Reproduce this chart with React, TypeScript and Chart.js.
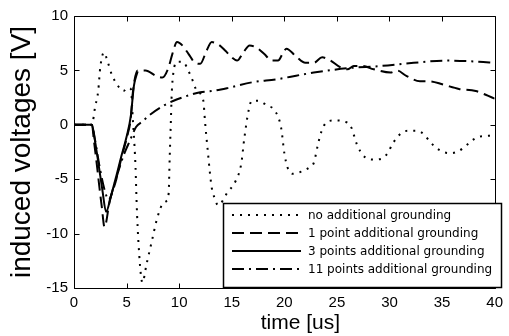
import React, { useEffect, useRef } from "react";
import { Chart, registerables } from "chart.js";

Chart.register(...registerables);

// ---- data (time in us, voltage in V) ----
const seriesLabels = [
  "no additional grounding",
  "1 point additional grounding",
  "3 points additional grounding",
  "11 points additional grounding",
];

const xTitle = "time [us]";
const yTitle = "induced voltages [V]";

const xTickValues = [0, 5, 10, 15, 20, 25, 30, 35, 40];
const yTickValues = [-15, -10, -5, 0, 5, 10];

const noGrounding: [number, number][] = [
  [0, 0], [1.7, 0], [2.0, 1.6], [2.3, 3.1], [2.5, 5.3], [2.85, 6.65], [3.2, 5.8], [3.6, 4.6],
  [4.1, 3.7], [4.7, 3.1], [5.1, 3.4], [5.4, 3.3], [5.6, 0.4], [5.75, -1.9], [5.85, -3.9],
  [5.95, -7.0], [6.05, -9.4], [6.2, -11.9], [6.35, -13.7], [6.5, -14.5], [6.9, -12.8],
  [7.4, -10.7], [7.85, -8.8], [8.4, -7.3], [8.8, -7.0], [9.0, -6.3], [9.1, -3.0], [9.2, 0],
  [9.3, 3.0], [9.45, 4.8], [9.8, 5.8], [10.3, 5.8], [11.1, 4.5], [11.7, 3.1], [12.3, 2.2],
  [12.45, 0.4], [12.6, -1.2], [12.75, -2.7], [12.9, -4.2], [13.1, -5.8], [13.4, -6.8],
  [13.7, -7.4], [14.6, -6.2], [15.4, -5.1], [15.9, -3.6], [16.2, -1.2], [16.6, 1.3],
  [16.9, 2.2], [17.5, 2.2], [18.4, 1.75], [19.1, 1.3], [19.7, -0.3], [20.0, -2.6],
  [20.3, -3.9], [20.8, -4.5], [21.6, -4.3], [22.4, -3.9], [22.8, -3.5], [23.2, -1.8],
  [23.5, -0.7], [24.1, 0.3], [24.9, 0.4], [25.7, 0.3], [26.3, -0.1], [26.9, -1.8],
  [27.2, -2.4], [27.7, -3.0], [28.4, -3.2], [29.3, -3.1], [29.9, -2.5], [30.2, -1.9],
  [30.7, -1.2], [31.2, -0.7], [31.9, -0.55], [32.6, -0.55], [33.3, -0.9], [33.8, -1.5],
  [34.3, -2.0], [35.1, -2.5], [35.9, -2.6], [36.6, -2.4], [37.3, -1.9], [37.9, -1.4],
  [38.5, -1.1], [39.5, -1.0], [40, -0.9],
];

const onePoint: [number, number][] = [
  [0, 0], [1.7, 0], [1.9, -1.5], [2.2, -3.9], [2.4, -5.6], [2.65, -7.6], [2.9, -9.4],
  [3.4, -7.0], [4.0, -5.1], [4.3, -3.9], [4.6, -2.7], [5.1, -0.9], [5.4, 0.6], [5.6, 3.0],
  [6.05, 5.0], [6.8, 5.0], [7.8, 4.5], [8.4, 4.35], [9.0, 5.3], [9.35, 6.5], [9.8, 7.6],
  [10.3, 7.3], [10.9, 6.5], [11.5, 5.7], [12.0, 5.6], [12.6, 6.8], [13.1, 7.6], [13.7, 7.4],
  [14.4, 6.8], [15.0, 6.2], [15.5, 5.9], [16.1, 6.65], [16.7, 7.3], [17.5, 7.0], [18.1, 6.5],
  [18.8, 5.9], [19.4, 5.9], [19.9, 6.65], [20.2, 7.0], [21.1, 6.3], [22.0, 5.7], [22.8, 5.7],
  [23.6, 6.2], [24.4, 5.9], [25.3, 5.3], [26.0, 5.1], [26.6, 5.4], [27.4, 5.4], [28.5, 5.1],
  [30.1, 4.8], [30.7, 5.0], [31.6, 4.5], [32.9, 4.0], [33.8, 4.0], [35.1, 3.7], [36.6, 3.3],
  [38.2, 3.1], [40, 2.4],
];

const threePoints: [number, number][] = [
  [0, 0], [1.7, 0], [1.95, -1.2], [2.3, -3.4], [2.7, -6.0], [3.05, -8.0], [3.5, -6.6],
  [4.0, -4.8], [4.5, -2.9], [5.0, -1.1], [5.4, 0.8], [5.7, 3.6], [6.05, 4.9],
];

const elevenPoints: [number, number][] = [
  [0, 0], [1.7, 0], [2.0, -1.4], [2.5, -4.2], [3.0, -6.3], [3.3, -6.9], [3.8, -5.6],
  [4.3, -4.0], [4.8, -2.6], [5.3, -1.5], [5.9, -0.2], [6.5, 0.3], [7.2, 0.9], [8.6, 1.8],
  [9.7, 2.3], [10.9, 2.7], [12.0, 3.0], [13.1, 3.1], [14.7, 3.4], [16.9, 3.9], [19.4, 4.2],
  [20.5, 4.4], [22.8, 4.8], [26.0, 5.2], [29.1, 5.4], [32.3, 5.7], [35.4, 5.9], [38.5, 5.8],
  [40, 5.7],
];

const seriesData = [noGrounding, onePoint, threePoints, elevenPoints];
const seriesDash: number[][] = [[2, 6], [12, 6], [], [12, 5, 2, 5]];

const toXY = (arr: [number, number][]) => arr.map(([x, y]) => ({ x, y }));

const framePlugin = {
  id: "frameTicks",
  afterDatasetsDraw(chart: any) {
    const { ctx, chartArea: a, scales } = chart;
    ctx.save();
    ctx.strokeStyle = "#000";
    ctx.lineWidth = 1;
    ctx.setLineDash([]);
    const L = Math.round(a.left) + 0.5;
    const R = Math.round(a.right) + 0.5;
    const T = Math.round(a.top) + 0.5;
    const B = Math.round(a.bottom) + 0.5;
    ctx.beginPath();
    ctx.rect(L, T, R - L, B - T);
    ctx.stroke();
    const len = 5;
    ctx.beginPath();
    for (const v of xTickValues) {
      const px = Math.round(scales.x.getPixelForValue(v)) + 0.5;
      ctx.moveTo(px, B);
      ctx.lineTo(px, B - len);
      ctx.moveTo(px, T);
      ctx.lineTo(px, T + len);
    }
    for (const v of yTickValues) {
      const py = Math.round(scales.y.getPixelForValue(v)) + 0.5;
      ctx.moveTo(L, py);
      ctx.lineTo(L + len, py);
      ctx.moveTo(R, py);
      ctx.lineTo(R - len, py);
    }
    ctx.stroke();
    // x-axis title (offset to the right as in the original figure)
    ctx.fillStyle = "#000";
    ctx.font = "21px 'Liberation Sans', Arial";
    ctx.textAlign = "center";
    ctx.textBaseline = "middle";
    ctx.fillText(xTitle, (a.left + a.right) / 2 + 16, 323);
    ctx.restore();
  },
};

const legendPlugin = {
  id: "insideLegend",
  afterDraw(chart: any) {
    const { ctx } = chart;
    const bx = 223, by = 203, bw = 278, bh = 84;
    ctx.save();
    ctx.fillStyle = "#fff";
    ctx.fillRect(bx, by, bw, bh);
    ctx.strokeStyle = "#000";
    ctx.lineWidth = 1.5;
    ctx.setLineDash([]);
    ctx.strokeRect(bx + 0.5, by + 0.5, bw, bh);
    const rows = [215, 233, 251, 269];
    ctx.font = "12px 'DejaVu Sans'";
    ctx.textBaseline = "middle";
    ctx.textAlign = "left";
    chart.data.datasets.forEach((ds: any, i: number) => {
      const y = rows[i];
      ctx.beginPath();
      ctx.lineWidth = 2;
      ctx.setLineDash(ds.borderDash || []);
      ctx.moveTo(232, y);
      ctx.lineTo(301, y);
      ctx.stroke();
      ctx.setLineDash([]);
      ctx.fillStyle = "#000";
      ctx.fillText(ds.label, 308, y + 1);
    });
    ctx.restore();
  },
};

export default function App() {
  const ref = useRef<HTMLCanvasElement | null>(null);
  useEffect(() => {
    if (!ref.current) return;
    const chart = new Chart(ref.current, {
      type: "line",
      data: {
        datasets: seriesData.map((d, i) => ({
          label: seriesLabels[i],
          data: toXY(d),
          borderColor: "#000",
          borderWidth: 2,
          borderDash: seriesDash[i],
          pointRadius: 0,
          fill: false,
          cubicInterpolationMode: "monotone" as const,
        })),
      },
      options: {
        animation: false,
        responsive: false,
        devicePixelRatio: 1,
        layout: { padding: { left: 0, right: 10, top: 16, bottom: 0 } },
        plugins: { legend: { display: false }, tooltip: { enabled: false } },
        scales: {
          x: {
            type: "linear",
            min: 0,
            max: 40,
            grid: { display: false, drawTicks: false },
            border: { display: false },
            ticks: {
              stepSize: 5,
              color: "#000",
              padding: 6,
              font: { family: "'Liberation Sans', Arial", size: 15 },
            },
            title: { display: false },
            afterFit(scale: any) {
              scale.height = 48;
            },
          },
          y: {
            type: "linear",
            min: -15,
            max: 10,
            grid: { display: false, drawTicks: false },
            border: { display: false },
            ticks: {
              stepSize: 5,
              color: "#000",
              padding: 6,
              font: { family: "'Liberation Sans', Arial", size: 15 },
            },
            title: {
              display: true,
              text: yTitle,
              color: "#000",
              font: { family: "'Liberation Sans', Arial", size: 28, lineHeight: 1 },
              padding: { top: 8, bottom: 0 },
            },
            afterFit(scale: any) {
              scale.width = 74;
            },
          },
        },
      },
      plugins: [framePlugin, legendPlugin],
    });
    return () => chart.destroy();
  }, []);
  return (
    <div style={{ position: "fixed", left: 0, top: 0, width: 509, height: 336, background: "#fff" }}>
      <canvas ref={ref} width={509} height={336} />
    </div>
  );
}
